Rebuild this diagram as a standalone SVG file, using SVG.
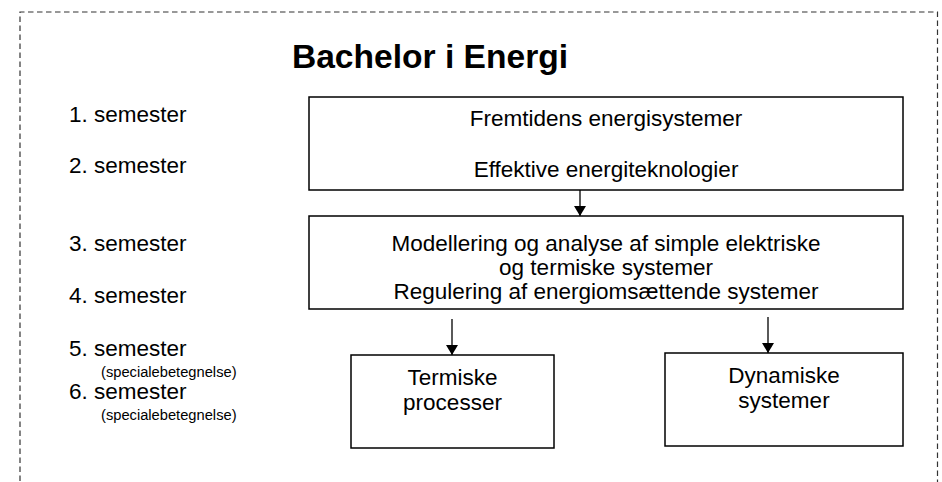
<svg xmlns="http://www.w3.org/2000/svg" width="942" height="482" viewBox="0 0 942 482">
<defs>
<style>
text{font-family:"Liberation Sans",Arial,sans-serif;fill:#000}
.t{font-size:33.6px;font-weight:bold;text-anchor:middle}
.s{font-size:22.5px}
.sm{font-size:14.7px}
.b{font-size:22.5px;text-anchor:middle}
.box{fill:#fff;stroke:#000;stroke-width:1.5}
.c{stroke:#000;stroke-width:1.3;fill:none}
</style>
<marker id="ah" viewBox="0 0 10 12" refX="10" refY="6" markerWidth="10" markerHeight="12" markerUnits="userSpaceOnUse" orient="auto">
<path d="M0,0 L10,6 L0,12 z" fill="#000"/>
</marker>
</defs>
<rect width="942" height="482" fill="#fff"/>
<path d="M20,490 L20,12 L937.5,12 L937.5,490" fill="none" stroke="#333" stroke-width="1.2" stroke-dasharray="5.5,3.5"/>
<text class="t" x="430" y="68">Bachelor i Energi</text>
<g id="labels">
<text class="s" x="69" y="122">1. semester</text>
<text class="s" x="69" y="173">2. semester</text>
<text class="s" x="69" y="251">3. semester</text>
<text class="s" x="69" y="303">4. semester</text>
<text class="s" x="69" y="356">5. semester</text>
<text class="sm" x="101" y="377">(specialebetegnelse)</text>
<text class="s" x="69" y="399">6. semester</text>
<text class="sm" x="101" y="420">(specialebetegnelse)</text>
</g>
<g id="n1">
<rect class="box" x="309" y="97" width="594" height="93"/>
<text class="b" x="606" y="126">Fremtidens energisystemer</text>
<text class="b" x="606" y="177">Effektive energiteknologier</text>
</g>
<g id="n2">
<rect class="box" x="309" y="216" width="594" height="93"/>
<text class="b" x="606" y="251">Modellering og analyse af simple elektriske</text>
<text class="b" x="606" y="275">og termiske systemer</text>
<text class="b" x="606" y="299">Regulering af energiomsættende systemer</text>
</g>
<g id="n3">
<rect class="box" x="351" y="355" width="203" height="93"/>
<text class="b" x="452.5" y="385">Termiske</text>
<text class="b" x="452.5" y="410">processer</text>
</g>
<g id="n4">
<rect class="box" x="665" y="353" width="238" height="93"/>
<text class="b" x="784" y="383">Dynamiske</text>
<text class="b" x="784" y="408">systemer</text>
</g>
<g id="connectors">
<line class="c" x1="580" y1="190" x2="580" y2="216" marker-end="url(#ah)"/>
<line class="c" x1="452" y1="319" x2="452" y2="355" marker-end="url(#ah)"/>
<line class="c" x1="768" y1="317" x2="768" y2="353" marker-end="url(#ah)"/>
</g>
</svg>
